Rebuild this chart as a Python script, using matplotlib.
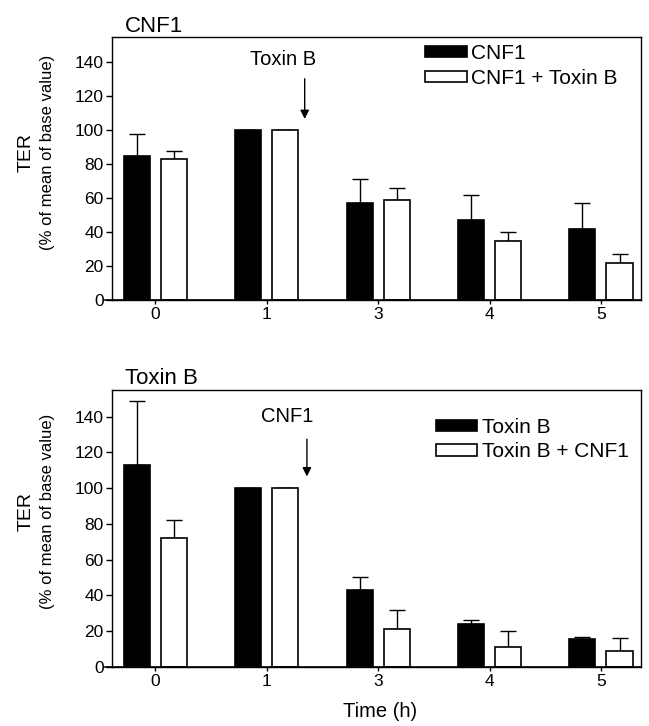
import numpy as np
import matplotlib
matplotlib.use("Agg")
import matplotlib.pyplot as plt

plt.rcParams['font.family'] = ['Liberation Sans', 'DejaVu Sans']

hours = ["0", "1", "3", "4", "5"]

# top panel: CNF1
cnf1 = [85, 100, 57, 47, 42]
cnf1_err = [13, 0, 14, 15, 15]
cnf1_txb = [83, 100, 59, 35, 22]
cnf1_txb_err = [5, 0, 7, 5, 5]

# bottom panel: Toxin B
txb = [113, 100, 43, 24, 15.5]
txb_err = [36, 0, 7, 2, 1]
txb_cnf1 = [72, 100, 21, 11, 9]
txb_cnf1_err = [10, 0, 11, 9, 7]

panels = [
    ("CNF1", "CNF1", "CNF1 + Toxin B", cnf1, cnf1_err, cnf1_txb, cnf1_txb_err, "Toxin B"),
    ("Toxin B", "Toxin B", "Toxin B + CNF1", txb, txb_err, txb_cnf1, txb_cnf1_err, "CNF1"),
]

fig = plt.figure(figsize=(6.49, 7.26), dpi=100)
rects = [[0.1726, 0.5868, 0.8151, 0.3623], [0.1726, 0.0817, 0.8151, 0.3811]]
leg_anchor = [(0.592, 0.972), (0.612, 0.898)]
note_pos = [(1.15, 142, 1.34, 132), (1.18, 140, 1.36, 129)]

x = np.arange(len(hours))
w = 0.234
off = 0.167

for i, (rect, (title, lab1, lab2, v1, e1, v2, e2, note)) in enumerate(zip(rects, panels)):
    ax = fig.add_axes(rect)
    ax.bar(x - off, v1, w, color="black", edgecolor="black", lw=1.2, label=lab1, zorder=2)
    ax.bar(x + off, v2, w, color="white", edgecolor="black", lw=1.2, label=lab2, zorder=2)
    ax.errorbar(x - off, v1, yerr=[np.zeros(len(v1)), e1], fmt="none", ecolor="black",
                elinewidth=1, capsize=6, capthick=1, zorder=1)
    ax.errorbar(x + off, v2, yerr=[np.zeros(len(v2)), e2], fmt="none", ecolor="black",
                elinewidth=1, capsize=6, capthick=1, zorder=1)
    ax.set_xlim(-0.39, 4.36)
    ax.set_ylim(0, 155)
    ax.set_yticks(range(0, 141, 20))
    ax.set_xticks(x)
    ax.set_xticklabels(hours)
    ax.tick_params(labelsize=12.5, direction="out", length=4, width=1, pad=2)
    ax.tick_params(axis="x", length=3)
    for s in ax.spines.values():
        s.set_linewidth(1)
    # base line sticks out a little to the left of the frame
    ax.axhline(0, xmin=-0.014, xmax=1.0, color="black", lw=1.2, clip_on=False)

    ax.text(0.025, 1.02, title, transform=ax.transAxes, fontsize=16, ha="left", va="baseline")
    ax.text(-0.163, 0.56, "TER", transform=ax.transAxes, rotation=90, fontsize=14,
            ha="center", va="center")
    ax.text(-0.122, 0.56, "(% of mean of base value)", transform=ax.transAxes, rotation=90,
            fontsize=12, ha="center", va="center")

    tx, ty, axx, ay = note_pos[i]
    ax.annotate("", xy=(axx, 105), xytext=(axx, ay),
                arrowprops=dict(arrowstyle="-|>", color="black", lw=1, mutation_scale=13))
    ax.text(tx, ty, note, fontsize=14.5, ha="center", va="center")

    ax.legend(loc="upper left", bbox_to_anchor=leg_anchor[i], frameon=False, fontsize=15,
              handlelength=2.0, handleheight=0.45, handletextpad=0.2, labelspacing=0.25,
              borderaxespad=0, borderpad=0)

fig.text(0.585, 0.012, "Time (h)", fontsize=14.5, ha="center", va="baseline")

fig.savefig("out.png", dpi=100)
